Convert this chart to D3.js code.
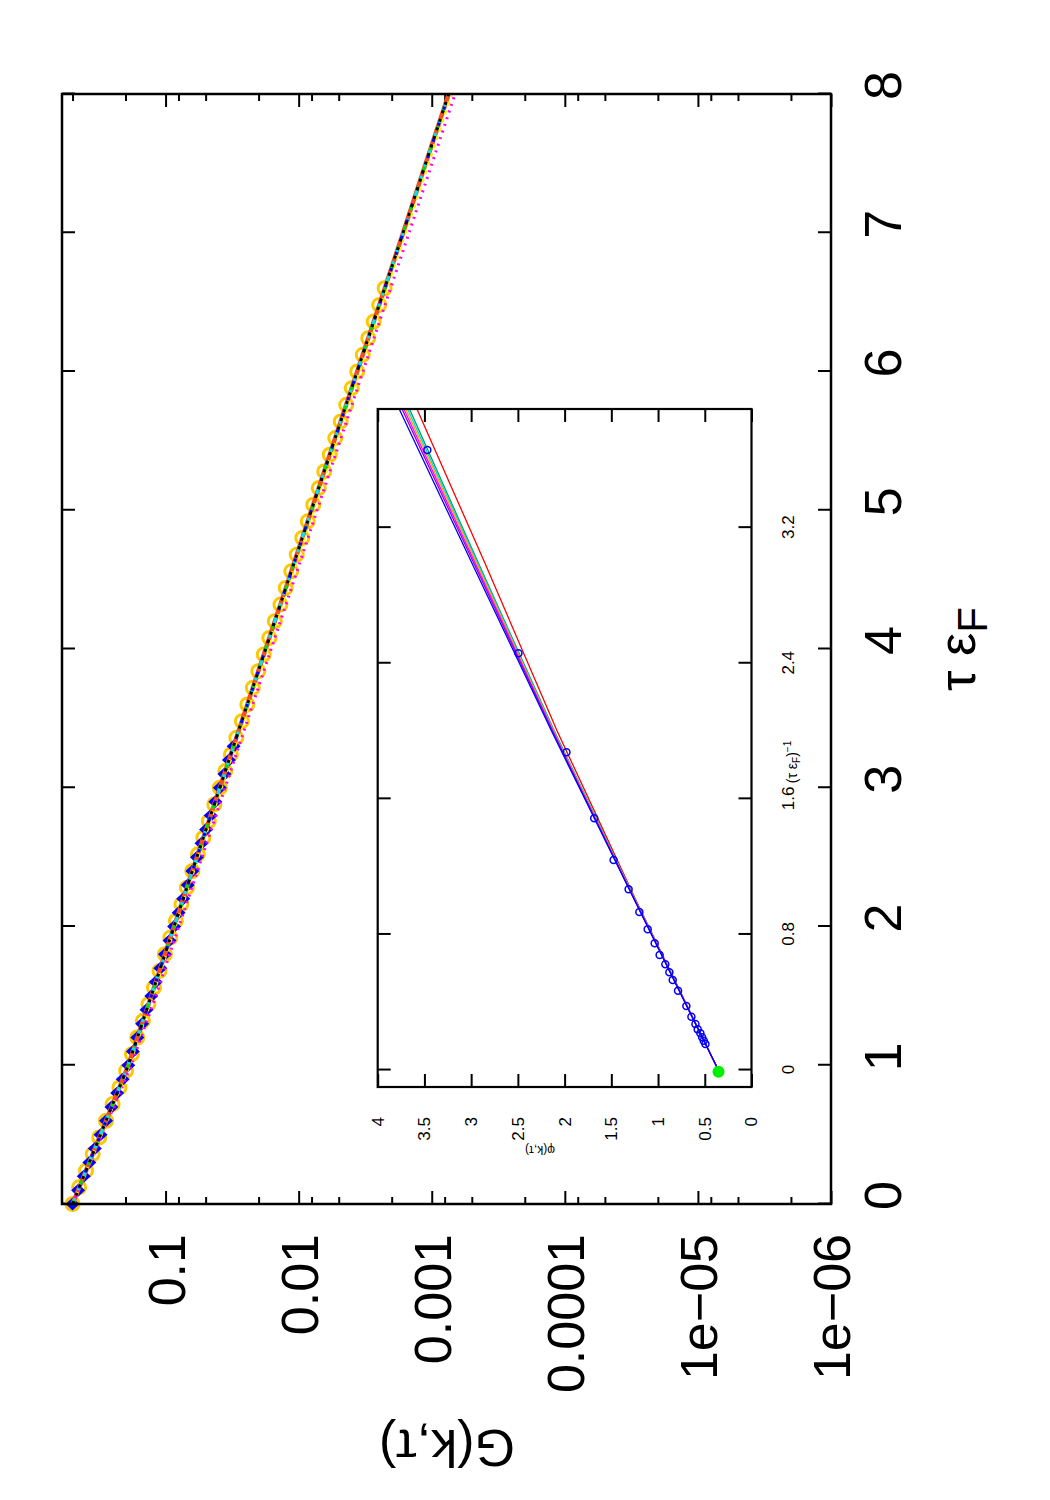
<!DOCTYPE html>
<html>
<head>
<meta charset="utf-8">
<script src="https://cdn.jsdelivr.net/npm/d3@7"></script>
<style>
  body { margin: 0; background: #fff; }
  svg text { font-family: "Liberation Sans", Arial, sans-serif; fill: #000; }
</style>
</head>
<body>
<script>
// ---- main panel: G(k,tau) vs tau*eF ----
const tauTicks = [0, 1, 2, 3, 4, 5, 6, 7, 8];
const gTicks = [1e-6, 1e-5, 1e-4, 1e-3, 1e-2, 1e-1];
const gTickLabels = ['1e−06', '1e−05', '0.0001', '0.001', '0.01', '0.1'];
const gMinor = [2, 5, 8];

// fitted curves (several overlap almost exactly)
const tauLine = [0, 0.5, 1, 1.5, 2, 2.5, 3, 3.5, 4, 4.5, 5, 5.5, 6, 6.5, 7, 7.5, 8];
const gFit = [0.5, 0.308, 0.1905, 0.128, 0.0863, 0.0581, 0.0391, 0.0263, 0.0177, 0.0119, 0.00802, 0.0054, 0.00363, 0.00244, 0.00164, 0.00111, 0.000745];
const gYellow = [0.5, 0.305, 0.1875, 0.1255, 0.0845, 0.0568, 0.0381, 0.0256, 0.0172, 0.01155, 0.00778, 0.00523, 0.00352, 0.00236, 0.00158, 0.00106, 0.00071];
const gMagenta = [0.5, 0.3, 0.1815, 0.1185, 0.0795, 0.0532, 0.0357, 0.024, 0.0161, 0.0108, 0.00727, 0.00489, 0.00329, 0.00221, 0.00148, 0.000995, 0.000668];

// gold circles
const tauCirc = [0, 0.12, 0.24, 0.36, 0.48, 0.6, 0.72, 0.84, 0.96, 1.08, 1.2, 1.32, 1.44, 1.56, 1.68, 1.8, 1.92, 2.04, 2.16, 2.28, 2.4, 2.52, 2.64, 2.76, 2.88, 3, 3.12, 3.24, 3.36, 3.48, 3.6, 3.72, 3.84, 3.96, 4.08, 4.2, 4.32, 4.44, 4.56, 4.68, 4.8, 4.92, 5.04, 5.16, 5.28, 5.4, 5.52, 5.64, 5.76, 5.88, 6, 6.12, 6.24, 6.36, 6.48, 6.6];
const gCirc = [0.5, 0.446, 0.396, 0.353, 0.315, 0.28, 0.25, 0.222, 0.198, 0.179, 0.163, 0.148, 0.1345, 0.1222, 0.111, 0.1011, 0.092, 0.0836, 0.076, 0.0691, 0.0629, 0.0572, 0.052, 0.0473, 0.043, 0.0391, 0.0356, 0.0323, 0.0294, 0.0267, 0.0243, 0.0221, 0.0201, 0.0183, 0.0166, 0.0151, 0.0137, 0.0125, 0.01136, 0.01033, 0.00939, 0.00854, 0.00776, 0.00706, 0.00642, 0.00584, 0.00531, 0.00483, 0.00439, 0.00399, 0.00363, 0.0033, 0.003, 0.00273, 0.00248, 0.00226];

// blue diamonds
const tauDiam = [0, 0.1, 0.2, 0.3, 0.4, 0.5, 0.6, 0.7, 0.8, 0.9, 1, 1.1, 1.2, 1.3, 1.4, 1.5, 1.6, 1.7, 1.8, 1.9, 2, 2.1, 2.2, 2.3, 2.4, 2.5, 2.6, 2.7, 2.8, 2.9, 3, 3.1, 3.2, 3.3];
const gDiam = [0.5, 0.454, 0.412, 0.374, 0.34, 0.308, 0.28, 0.255, 0.231, 0.21, 0.1905, 0.176, 0.163, 0.15, 0.139, 0.128, 0.1185, 0.1095, 0.1011, 0.0934, 0.0863, 0.0798, 0.0737, 0.0681, 0.0629, 0.0581, 0.0537, 0.0496, 0.0458, 0.0423, 0.0391, 0.0361, 0.0334, 0.0308];

// ---- inset: phi(k,tau) vs 1/(tau*eF) ----
const invTicks = [0, 0.8, 1.6, 2.4, 3.2];
const phiTicks = [0, 0.5, 1, 1.5, 2, 2.5, 3, 3.5, 4];
const invLine = [0, 1, 2, 3, 3.9];
const phiBlue = [0.355, 1.25, 2.14, 3.0, 3.77];
const phiPurple = [0.355, 1.248, 2.13, 2.98, 3.74];
const phiMagenta = [0.355, 1.246, 2.125, 2.965, 3.72];
const phiOrange = [0.355, 1.244, 2.12, 2.95, 3.7];
const phiCyan = [0.355, 1.242, 2.115, 2.94, 3.68];
const phiGreen = [0.355, 1.24, 2.11, 2.93, 3.66];
const phiRed = [0.355, 1.235, 2.08, 2.86, 3.58];
const invPts = [0.154, 0.173, 0.193, 0.217, 0.24, 0.272, 0.315, 0.378, 0.468, 0.531, 0.577, 0.624, 0.679, 0.748, 0.83, 0.932, 1.066, 1.239, 1.485, 1.875, 2.459, 3.658];
const phiPts = [0.493, 0.511, 0.528, 0.547, 0.576, 0.6, 0.643, 0.697, 0.786, 0.843, 0.879, 0.922, 0.983, 1.036, 1.111, 1.2, 1.315, 1.476, 1.683, 1.98, 2.494, 3.469];
const invZero = [-0.01];
const phiZero = [0.353];

const W = 1500, H = 1050; // the gnuplot page is landscape and gets turned onto the sheet

const svg = d3.select('body').append('svg')
    .attr('width', 1050)
    .attr('height', 1500);
svg.append('rect').attr('width', 1050).attr('height', 1500).attr('fill', '#fff');

const page = svg.append('g')
    .attr('transform', 'translate(0,' + W + ') rotate(-90)');

// main scales
const x = d3.scaleLinear().domain([0, 8]).range([296, 1406]);
const y = d3.scaleLog().domain([1e-6, 0.6]).range([831, 62]);

function styleAxis(g, size) {
  g.select('.domain').remove();
  g.selectAll('line').attr('stroke', '#000').attr('stroke-width', 2);
  g.selectAll('text').attr('font-size', size).attr('font-family', '"Liberation Sans", Arial, sans-serif');
}

// tau axis, both edges
page.append('g')
    .attr('transform', 'translate(0,831)')
    .call(d3.axisBottom(x).tickValues(tauTicks).tickSize(-13).tickPadding(33).tickFormat(d3.format('d')))
    .call(g => styleAxis(g, 52))
    .call(g => g.selectAll('text').attr('dx', 8));
page.append('g')
    .attr('transform', 'translate(0,62)')
    .call(d3.axisTop(x).tickValues(tauTicks).tickSize(-13).tickFormat(''))
    .call(g => styleAxis(g, 52));

// G axis, both edges, with minor ticks
const minorVals = [];
gTicks.forEach(d => gMinor.forEach(m => { if (d * m < 0.6) minorVals.push(d * m); }));
page.append('g')
    .attr('transform', 'translate(296,0)')
    .call(d3.axisLeft(y).tickValues(gTicks).tickSize(-13).tickPadding(30)
      .tickFormat((d, i) => gTickLabels[i]))
    .call(g => styleAxis(g, 52))
    .call(g => g.selectAll('text').attr('dy', '0.36em'));
page.append('g')
    .attr('transform', 'translate(296,0)')
    .call(d3.axisLeft(y).tickValues(minorVals).tickSize(-7).tickFormat(''))
    .call(g => styleAxis(g, 52));
page.append('g')
    .attr('transform', 'translate(1406,0)')
    .call(d3.axisRight(y).tickValues(gTicks).tickSize(-13).tickFormat(''))
    .call(g => styleAxis(g, 52));
page.append('g')
    .attr('transform', 'translate(1406,0)')
    .call(d3.axisRight(y).tickValues(minorVals).tickSize(-7).tickFormat(''))
    .call(g => styleAxis(g, 52));

// data
const plot = page.append('g');
plot.selectAll('.circ')
  .data(d3.zip(tauCirc, gCirc))
  .enter().append('circle')
    .attr('class', 'circ')
    .attr('cx', d => x(d[0]))
    .attr('cy', d => y(d[1]))
    .attr('r', 6.5)
    .attr('fill', 'none')
    .attr('stroke', '#fcc800')
    .attr('stroke-width', 3);

plot.selectAll('.diam')
  .data(d3.zip(tauDiam, gDiam))
  .enter().append('path')
    .attr('class', 'diam')
    .attr('transform', d => 'translate(' + x(d[0]) + ',' + y(d[1]) + ')')
    .attr('d', 'M0,-7L6.5,0L0,7L-6.5,0Z')
    .attr('fill', '#0000ff');

const line = d3.line().x(d => x(d[0])).y(d => y(d[1]));
const curves = [
  { g: gFit, color: '#f4501e', width: 4.5, dash: null },
  { g: gMagenta, color: '#ff00ff', width: 3, dash: '2,5' },
  { g: gYellow, color: '#ffee00', width: 3, dash: '4,5' },
  { g: gFit, color: '#00e5ee', width: 3, dash: '6,9' },
  { g: gFit, color: '#00dd00', width: 3, dash: '4,17' },
  { g: gFit, color: '#0000ff', width: 3, dash: '3,14' },
  { g: gFit, color: '#000', width: 3, dash: '3,6' }
];
curves.forEach(c => {
  plot.append('path')
    .datum(d3.zip(tauLine, c.g))
    .attr('d', line)
    .attr('fill', 'none')
    .attr('stroke', c.color)
    .attr('stroke-width', c.width)
    .attr('stroke-dasharray', c.dash);
});

// frame
page.append('rect')
    .attr('x', 296).attr('y', 62)
    .attr('width', 1110).attr('height', 769)
    .attr('fill', 'none').attr('stroke', '#000').attr('stroke-width', 2.5);

// axis titles
page.append('text')
    .attr('transform', 'translate(70,447) rotate(-90)')
    .attr('text-anchor', 'middle')
    .attr('font-size', 52)
    .text('G(k,τ)');
const xt = page.append('text')
    .attr('x', 851).attr('y', 975)
    .attr('text-anchor', 'middle')
    .attr('font-size', 52);
xt.append('tspan').text('τ ε');
xt.append('tspan').attr('dy', 12).attr('font-size', 42).text('F');

// ---- inset ----
const xi = d3.scaleLinear().domain([-0.1, 3.9]).range([413, 1091]);
const yi = d3.scaleLinear().domain([0, 4]).range([751.5, 377.7]);

page.append('rect')
    .attr('x', 413).attr('y', 377.7)
    .attr('width', 678).attr('height', 373.8)
    .attr('fill', '#fff');

page.append('g')
    .attr('transform', 'translate(0,751.5)')
    .call(d3.axisBottom(xi).tickValues(invTicks).tickSize(-13).tickPadding(30).tickFormat(d => d))
    .call(g => styleAxis(g, 17));
page.append('g')
    .attr('transform', 'translate(0,377.7)')
    .call(d3.axisTop(xi).tickValues(invTicks).tickSize(-13).tickFormat(''))
    .call(g => styleAxis(g, 17));
page.append('g')
    .attr('transform', 'translate(413,0)')
    .call(d3.axisLeft(yi).tickValues(phiTicks).tickSize(-13).tickPadding(30).tickFormat(d => d))
    .call(g => styleAxis(g, 17));
page.append('g')
    .attr('transform', 'translate(1091,0)')
    .call(d3.axisRight(yi).tickValues(phiTicks).tickSize(-13).tickFormat(''))
    .call(g => styleAxis(g, 17));

const clipIn = svg.append('defs').append('clipPath').attr('id', 'clipIn');
clipIn.append('rect').attr('x', 413).attr('y', 377.7).attr('width', 678).attr('height', 373.8);

const inset = page.append('g').attr('clip-path', 'url(#clipIn)');
const lineIn = d3.line().x(d => xi(d[0])).y(d => yi(d[1]));
const insetLines = [
  { phi: phiRed, color: '#ff0000' },
  { phi: phiGreen, color: '#00a060' },
  { phi: phiCyan, color: '#00d8d8' },
  { phi: phiOrange, color: '#ffa500' },
  { phi: phiMagenta, color: '#ff00ff' },
  { phi: phiPurple, color: '#9400d3' },
  { phi: phiBlue, color: '#0000ff' }
];
insetLines.forEach(l => {
  inset.append('path')
    .datum(d3.zip(invLine, l.phi))
    .attr('d', lineIn)
    .attr('fill', 'none')
    .attr('stroke', l.color)
    .attr('stroke-width', 1.3);
});
inset.selectAll('.pt')
  .data(d3.zip(invPts, phiPts))
  .enter().append('circle')
    .attr('class', 'pt')
    .attr('cx', d => xi(d[0]))
    .attr('cy', d => yi(d[1]))
    .attr('r', 3.5)
    .attr('fill', 'none')
    .attr('stroke', '#0000ff')
    .attr('stroke-width', 1.5);
inset.selectAll('.zero')
  .data(d3.zip(invZero, phiZero))
  .enter().append('circle')
    .attr('class', 'zero')
    .attr('cx', d => xi(d[0]))
    .attr('cy', d => yi(d[1]))
    .attr('r', 6)
    .attr('fill', '#00ee00');

page.append('rect')
    .attr('x', 413).attr('y', 377.7)
    .attr('width', 678).attr('height', 373.8)
    .attr('fill', 'none').attr('stroke', '#000').attr('stroke-width', 2.2);

// inset titles
page.append('text')
    .attr('transform', 'translate(354,540) rotate(-90)')
    .attr('text-anchor', 'middle')
    .attr('font-size', 12)
    .text('φ(k,τ)');
const it = page.append('text')
    .attr('x', 738).attr('y', 797)
    .attr('text-anchor', 'middle')
    .attr('font-size', 14);
it.append('tspan').text('(τ ε');
it.append('tspan').attr('dy', 3).attr('font-size', 10).text('F');
it.append('tspan').attr('dy', -3).text(')');
it.append('tspan').attr('dy', -6).attr('font-size', 10).text('−1');
</script>
</body>
</html>
